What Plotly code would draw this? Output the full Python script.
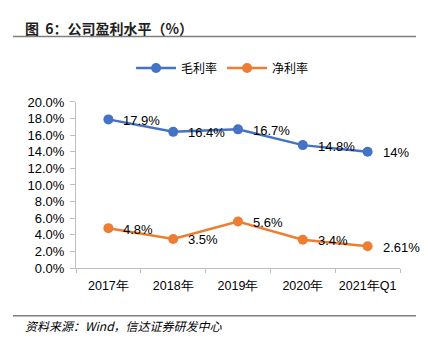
import plotly.graph_objects as go

# Company profitability: gross margin and net margin, in percent
periods = ["2017年", "2018年", "2019年", "2020年", "2021年Q1"]
gross_margin = [17.9, 16.4, 16.7, 14.8, 14]
net_margin = [4.8, 3.5, 5.6, 3.4, 2.61]
y_ticks = [0, 2, 4, 6, 8, 10, 12, 14, 16, 18, 20]

BLUE = "#4472C4"
ORANGE = "#ED7D31"
FONT = "Liberation Sans, Arial, sans-serif"
CJK = "Noto Sans CJK SC"

W, H = 428, 349
L, R, T, B = 76, 28, 98, 81
plot_w = W - L - R
plot_h = H - T - B


def px_x(x):
    return (x - L) / plot_w


def px_y(y):
    return (H - B - y) / plot_h


def labels(vals):
    return [f"{v:g}%" for v in vals]


fig = go.Figure()
for name, vals, color in [("毛利率", gross_margin, BLUE), ("净利率", net_margin, ORANGE)]:
    fig.add_trace(go.Scatter(
        x=periods, y=vals, name=name, mode="lines+markers",
        line=dict(color=color, width=2.5),
        marker=dict(color=color, size=10),
        cliponaxis=False,
    ))
    # value labels to the right of each point
    for p, v, t in zip(periods, vals, labels(vals)):
        fig.add_annotation(x=p, y=v, text=t, showarrow=False,
                           xanchor="left", yanchor="middle", xshift=13, yshift=-1,
                           font=dict(family=FONT, size=13, color="#000000"))

fig.update_layout(
    width=W, height=H,
    margin=dict(l=L, r=R, t=T, b=B),
    paper_bgcolor="white", plot_bgcolor="white",
    showlegend=True,
    legend=dict(orientation="h", xref="container", x=0.52, xanchor="center",
                yref="container", y=1 - 68 / H, yanchor="middle",
                font=dict(family=CJK, size=12, color="#000000"),
                itemwidth=40, tracegroupgap=0),
    xaxis=dict(type="category", range=[-0.5, 4.5], showgrid=False,
               showline=True, linecolor="#BFBFBF", linewidth=1,
               ticks="outside", tickson="boundaries", ticklen=4, tickcolor="#BFBFBF",
               ticklabelstandoff=6, tickangle=0,
               tickfont=dict(family=FONT, size=12.5, color="#000000")),
    yaxis=dict(range=[0, 20], tickvals=y_ticks,
               ticktext=[f"{v:.1f}%" for v in y_ticks], showgrid=False,
               showline=True, linecolor="#BFBFBF", linewidth=1,
               ticks="outside", ticklen=5, tickcolor="#BFBFBF", zeroline=False,
               ticklabelstandoff=3,
               tickfont=dict(family=FONT, size=13, color="#000000")),
)

# Header title and rules
fig.add_annotation(xref="paper", yref="paper", x=px_x(23), y=px_y(22),
                   xanchor="left", yanchor="middle", showarrow=False,
                   text="<b>图  6：公司盈利水平（%）</b>",
                   font=dict(family=CJK, size=14, color="#1F1F1F"))
fig.add_shape(type="line", xref="paper", yref="paper",
              x0=px_x(13), x1=px_x(416), y0=px_y(31), y1=px_y(31),
              line=dict(color="#7F7F7F", width=1.5))
fig.add_shape(type="line", xref="paper", yref="paper",
              x0=px_x(13), x1=px_x(416), y0=px_y(317), y1=px_y(317),
              line=dict(color="#7F7F7F", width=1.5))
fig.add_annotation(xref="paper", yref="paper", x=px_x(23), y=px_y(327),
                   xanchor="left", yanchor="middle", showarrow=False,
                   text="<i>资料来源：Wind，信达证券研发中心</i>",
                   font=dict(family=CJK, size=12, color="#000000"))

fig.write_html("out.html")
